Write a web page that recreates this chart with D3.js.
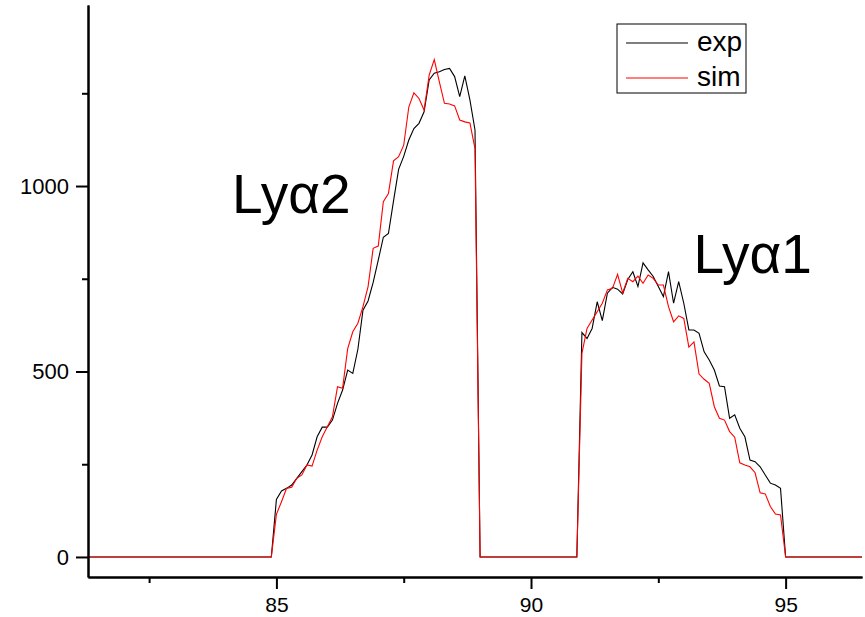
<!DOCTYPE html>
<html>
<head>
<meta charset="utf-8">
<script src="https://cdn.jsdelivr.net/npm/d3@7"></script>
<style>
  html, body { margin: 0; padding: 0; background: #fff; }
  svg { display: block; }
  text { font-family: Arial, "Liberation Sans", sans-serif; fill: #000; }
</style>
</head>
<body>
<script>
// Spectrum sampled every 0.1 units; two emission bands, zero elsewhere.
const step = 0.1;
const ly2Start = 85.0;
const ly1Start = 91.0;

// Lyα2 band (85.0 – 88.9)
const expLy2 = [155, 178, 185, 194, 212, 230, 248, 275, 324, 350,
                350, 369, 414, 450, 504, 495, 560, 665, 690, 740,
                800, 862, 872, 960, 1045, 1080, 1124, 1155, 1169, 1200,
                1286, 1304, 1308, 1314, 1317, 1295, 1241, 1297, 1232, 1151];
const simLy2 = [115, 149, 185, 188, 212, 221, 248, 245, 288, 324,
                351, 378, 459, 455, 562, 607, 630, 675, 729, 832,
                838, 958, 980, 1068, 1079, 1110, 1213, 1251, 1236, 1205,
                1299, 1341, 1281, 1223, 1221, 1216, 1178, 1173, 1170, 1101];

// Lyα1 band (91.0 – 94.9)
const expLy1 = [605, 589, 616, 688, 637, 711, 727, 722, 709, 748,
                769, 729, 793, 774, 756, 729, 702, 769, 684, 742,
                684, 612, 612, 603, 553, 531, 504, 461, 459, 374,
                383, 347, 324, 261, 257, 243, 221, 199, 194, 185];
const simLy1 = [549, 616, 639, 661, 684, 720, 724, 762, 712, 751,
                742, 757, 738, 760, 751, 733, 733, 675, 634, 650,
                643, 566, 580, 493, 479, 468, 405, 374, 369, 338,
                323, 254, 248, 243, 227, 173, 170, 136, 116, 113];

// Stretches with no signal: [from, to]
const zeroRuns = [[81.3, 84.9], [89.0, 90.9], [95.0, 96.5]];

const xMajorTicks = [85, 90, 95];
const xMinorTicks = [82.5, 87.5, 92.5];
const yMajorTicks = [0, 500, 1000];
const yMinorTicks = [250, 750, 1250];

const seriesNames = ["exp", "sim"];
const seriesColors = ["#000000", "#ff0000"];
const bandLabels = [
  { text: "Lyα2", x: 84.13, y: 927 },
  { text: "Lyα1", x: 93.19, y: 765 }
];

function band(start, values) {
  return values.map((v, i) => ({ x: +(start + i * step).toFixed(2), y: v }));
}
function buildSeries(ly2, ly1) {
  const pts = [];
  zeroRuns.forEach(r => r.forEach(xv => pts.push({ x: xv, y: 0 })));
  pts.push(...band(ly2Start, ly2), ...band(ly1Start, ly1));
  return pts.sort((a, b) => a.x - b.x);
}
const series = [buildSeries(expLy2, expLy1), buildSeries(simLy2, simLy1)];

const W = 865, H = 617;
const svg = d3.select("body").append("svg").attr("width", W).attr("height", H);

const x = d3.scaleLinear().domain([81.3, 96.5]).range([88, 862]);
const y = d3.scaleLinear().domain([-54, 1488]).range([577, 5]);

const line = d3.line().x(d => x(d.x)).y(d => y(d.y));

// curves: measured first, simulation drawn over it
series.forEach((s, i) => {
  svg.append("path")
    .datum(s)
    .attr("fill", "none")
    .attr("stroke", seriesColors[i])
    .attr("stroke-width", 1.1)
    .attr("stroke-linejoin", "miter")
    .attr("d", line);
});

// axes
function styleAxis(g) {
  g.select(".domain").attr("stroke", "#000").attr("stroke-width", 2);
  g.selectAll(".tick line").attr("stroke", "#000").attr("stroke-width", 2);
  g.selectAll(".tick text").attr("font-size", 21).attr("font-family", "Arial, 'Liberation Sans', sans-serif");
}

const xAxis = svg.append("g").attr("transform", "translate(0,577)")
  .call(d3.axisBottom(x).tickValues(xMajorTicks).tickSize(12).tickSizeOuter(0)
        .tickPadding(8).tickFormat(d3.format("d")));
styleAxis(xAxis);
const xMinor = svg.append("g").attr("transform", "translate(0,577)")
  .call(d3.axisBottom(x).tickValues(xMinorTicks).tickSize(6).tickSizeOuter(0).tickFormat(""));
styleAxis(xMinor);

const yAxis = svg.append("g").attr("transform", "translate(88,0)")
  .call(d3.axisLeft(y).tickValues(yMajorTicks).tickSize(12).tickSizeOuter(0)
        .tickPadding(7).tickFormat(d3.format("d")));
styleAxis(yAxis);
yAxis.selectAll(".tick text").attr("font-size", 22);
const yMinor = svg.append("g").attr("transform", "translate(88,0)")
  .call(d3.axisLeft(y).tickValues(yMinorTicks).tickSize(6).tickSizeOuter(0).tickFormat(""));
styleAxis(yMinor);

// band annotations
svg.selectAll("text.band")
  .data(bandLabels)
  .enter().append("text")
  .attr("class", "band")
  .attr("x", d => x(d.x))
  .attr("y", d => y(d.y))
  .attr("font-size", 55)
  .text(d => d.text);

// legend
const legend = svg.append("g").attr("transform", "translate(617,24)");
legend.append("rect")
  .attr("width", 129).attr("height", 69)
  .attr("fill", "#fff").attr("stroke", "#000").attr("stroke-width", 1);
seriesNames.forEach((name, i) => {
  const ly = 19 + i * 35;
  legend.append("line")
    .attr("x1", 9).attr("x2", 71).attr("y1", ly).attr("y2", ly)
    .attr("stroke", seriesColors[i]).attr("stroke-width", 1.1);
  legend.append("text")
    .attr("x", 80).attr("y", ly).attr("dy", "0.3em")
    .attr("font-size", 28)
    .text(name);
});
</script>
</body>
</html>
